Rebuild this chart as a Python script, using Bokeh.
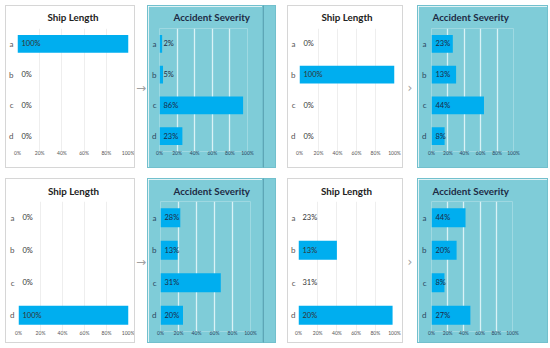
from bokeh.plotting import figure
from bokeh.layouts import row, column
from bokeh.models import Div, FixedTicker, Range1d, FactorRange, ColumnDataSource, Spacer
from bokeh.embed import file_html
from bokeh.resources import INLINE
from bokeh.core.properties import value

categories = ["a", "b", "c", "d"]
ticks = [0, 20, 40, 60, 80, 100]
tick_labels = ["0%", "20%", "40%", "60%", "80%", "100%"]

title_ship = "Ship Length"
title_sev = "Accident Severity"

# bar lengths as drawn (share of the axis, %) and the labels printed on them
bars_1 = [100, 0, 0, 0]
labels_1 = ["100%", "0%", "0%", "0%"]
bars_2 = [3, 4, 95, 26]
labels_2 = ["2%", "5%", "86%", "23%"]
bars_3 = [0, 100, 0, 0]
labels_3 = ["0%", "100%", "0%", "0%"]
bars_4 = [26, 30, 64, 16]
labels_4 = ["23%", "13%", "44%", "8%"]
bars_5 = [0, 0, 0, 100]
labels_5 = ["0%", "0%", "0%", "100%"]
bars_6 = [22, 19, 67, 25]
labels_6 = ["28%", "13%", "31%", "20%"]
bars_7 = [0, 40, 0, 98]
labels_7 = ["23%", "13%", "31%", "20%"]
bars_8 = [42, 31, 16, 48]
labels_8 = ["44%", "20%", "8%", "27%"]

TEAL = "#7fccd8"
TEAL_BORDER = "#72c0cd"
WHITE_BORDER = "#d6d6d6"
BAR = "#00aeef"
FONT = "Lato"


def make_panel(title, bars, labels, teal, w, h, x0, x100, ftop, fbot,
               title_align, title_offset, title_standoff, ylab_standoff, xlab_standoff):
    bg = TEAL if teal else "#ffffff"
    border = TEAL_BORDER if teal else WHITE_BORDER
    p = figure(width=w, height=h,
               y_range=FactorRange(factors=categories[::-1], range_padding=0),
               x_range=Range1d(0, 100),
               output_backend="svg", toolbar_location=None,
               min_border_left=x0 - 1, min_border_right=w - 1 - x100,
               min_border_top=ftop - 1, min_border_bottom=h - 1 - fbot,
               background_fill_color=bg, border_fill_color=bg,
               outline_line_color=None, margin=0,
               styles={"border": f"1px solid {border}"})
    p.title.text = title
    p.title.align = title_align
    p.title.offset = title_offset
    p.title.vertical_align = "top"
    p.title.standoff = title_standoff
    p.title.text_font = FONT
    p.title.text_font_size = "9.8px"
    p.title.text_font_style = "bold"
    p.title.text_color = "#1d2a44" if teal else "#222222"

    p.xaxis.ticker = FixedTicker(ticks=ticks)
    p.xaxis.major_label_overrides = {t: l for t, l in zip(ticks, tick_labels)}
    p.xaxis.major_label_text_font = FONT
    p.xaxis.major_label_text_font_size = "5px"
    p.xaxis.major_label_text_color = "#2c4660" if teal else "#555555"
    p.xaxis.major_label_standoff = xlab_standoff
    p.yaxis.major_label_text_font = FONT
    p.yaxis.major_label_text_font_size = "8px"
    p.yaxis.major_label_text_color = "#2c4660" if teal else "#555555"
    p.yaxis.major_label_standoff = ylab_standoff
    for ax in (p.xaxis, p.yaxis):
        ax.axis_line_color = None
        ax.major_tick_line_color = None
        ax.minor_tick_line_color = None
        ax.major_tick_out = 0
        ax.major_tick_in = 0

    p.xgrid.ticker = FixedTicker(ticks=ticks)
    p.xgrid.grid_line_color = "#d9f2f6" if teal else "#eeeeee"
    p.xgrid.grid_line_width = 1.3 if teal else 1
    p.ygrid.grid_line_color = None

    src = ColumnDataSource(dict(cat=categories, val=bars, lab=labels,
                                base=[0 for _ in categories]))
    p.hbar(y="cat", left="base", right="val", height=0.58, source=src,
           fill_color=BAR, line_color=None)
    p.text(x="base", y="cat", text="lab", source=src, x_offset=4,
           text_baseline="middle", text_align="left",
           text_font=value(FONT), text_font_size="7.5px",
           text_color="#1d2a44" if teal else "#333333")
    return p


def arrow(sym, w, h, top):
    return Div(text=(f'<div style="position:absolute;left:0;top:{top}px;width:{w}px;'
                     f'text-align:center;color:#a0a0a0;font-size:12px;line-height:12px;'
                     f'font-family:DejaVu Sans">{sym}</div>'),
               width=w, height=h, margin=0, styles={"position": "relative"})


def strip(w, h):
    return Div(text="", width=w, height=h, margin=0,
               styles={"background-color": TEAL,
                       "border-top": f"1px solid {TEAL_BORDER}",
                       "border-bottom": f"1px solid {TEAL_BORDER}",
                       "border-right": f"1px solid {TEAL_BORDER}",
                       "border-left": "1px solid #5ea6b6"})


H1, H2 = 163, 165
r1 = row(
    make_panel(title_ship, bars_1, labels_1, False, 130, H1, 12, 121, 22, 144, "center", 0, 8, 4, -2),
    arrow("→", 12, H1, 77),
    make_panel(title_sev, bars_2, labels_2, True, 116, H1, 12, 98, 22, 144, "left", 14, 8, 3, -2),
    strip(13, H1),
    Spacer(width=11, height=H1, margin=0),
    make_panel(title_ship, bars_3, labels_3, False, 116, H1, 12, 105, 22, 144, "center", 0, 8, 4, -2),
    arrow("›", 14, H1, 77),
    make_panel(title_sev, bars_4, labels_4, True, 131, H1, 14, 94, 22, 144, "left", 1, 8, 5, -2),
    spacing=0, margin=0)
r2 = row(
    make_panel(title_ship, bars_5, labels_5, False, 130, H2, 13, 121, 23, 151, "center", 0, 5, 4, -2),
    arrow("→", 12, H2, 78),
    make_panel(title_sev, bars_6, labels_6, True, 116, H2, 13, 101, 23, 151, "left", 13, 5, 4, -2),
    strip(13, H2),
    Spacer(width=11, height=H2, margin=0),
    make_panel(title_ship, bars_7, labels_7, False, 116, H2, 11, 105, 23, 151, "center", 0, 5, 3, -2),
    arrow("›", 14, H2, 78),
    make_panel(title_sev, bars_8, labels_8, True, 131, H2, 14, 93, 23, 151, "left", 1, 5, 5, -2),
    spacing=0, margin=0)

layout = column(r1, Spacer(height=10, margin=0), r2, spacing=0, margin=(5, -8, -8, 5))

open("out.html", "w").write(file_html(layout, INLINE))
